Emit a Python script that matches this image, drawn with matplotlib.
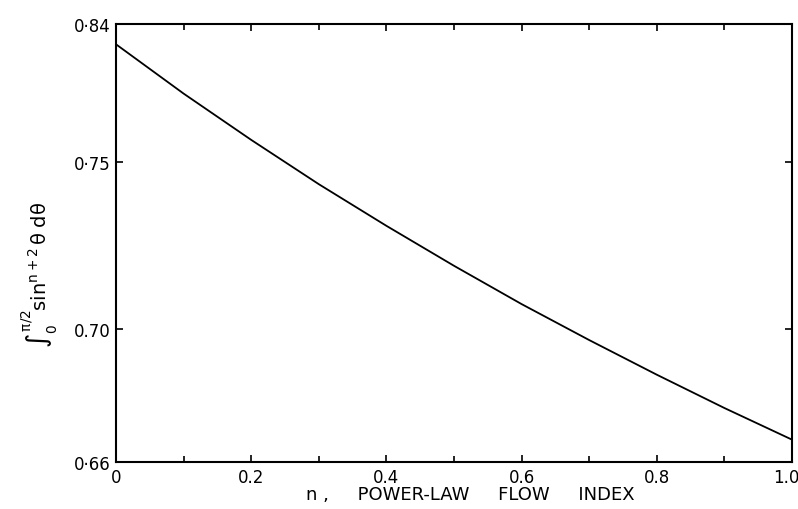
import matplotlib
matplotlib.use("Agg")
import matplotlib.pyplot as plt
import matplotlib.transforms as mtransforms
from matplotlib.ticker import MultipleLocator

# values
n_index = [0.0, 0.1, 0.2, 0.3, 0.4, 0.5, 0.6, 0.7, 0.8, 0.9, 1.0]
integral = [0.7854, 0.7706, 0.7567, 0.7434, 0.7309, 0.7189, 0.7074, 0.6966, 0.6862, 0.6762, 0.6667]

x_ticks = [0.0, 0.2, 0.4, 0.6, 0.8, 1.0]
x_labels = ["0", "0.2", "0.4", "0.6", "0.8", "1.0"]
y_ticks = [0.66, 0.70, 0.75, 0.7915]
y_labels = ["0·66", "0.70", "0·75", "0·84"]

plt.rcParams["mathtext.default"] = "regular"

fig = plt.figure(figsize=(7.98, 5.10), dpi=100)
ax = fig.add_axes([0.1454, 0.0922, 0.8471, 0.8588])

ax.plot(n_index, integral, color="black", linewidth=1.3)

ax.set_xlim(0, 1.0)
ax.set_ylim(0.66, 0.7915)
ax.set_xticks(x_ticks)
ax.set_xticklabels(x_labels, fontsize=12)
ax.xaxis.set_minor_locator(MultipleLocator(0.1))
ax.set_yticks(y_ticks)
ax.set_yticklabels(y_labels, fontsize=12)

ax.tick_params(which="both", direction="in", top=True, right=True, width=1.2)
ax.tick_params(which="major", length=5, pad=4)
ax.tick_params(which="minor", length=4)
for s in ax.spines.values():
    s.set_linewidth(1.5)

# keep the last x label inside the figure, as in the reference
last = ax.get_xticklabels()[-1]
last.set_transform(last.get_transform() + mtransforms.ScaledTranslation(-6 / 100, 0, fig.dpi_scale_trans))

ax.set_xlabel("n ,     POWER-LAW     FLOW     INDEX", fontsize=13)
ax.xaxis.set_label_coords(0.524, -0.052)

ax.text(-0.112, 0.43, r"$\int_0^{\pi/2}sin^{n+2}\,\theta\;d\theta$", transform=ax.transAxes,
        rotation=90, fontsize=14, ha="center", va="center")

fig.savefig("out.png", dpi=100)
